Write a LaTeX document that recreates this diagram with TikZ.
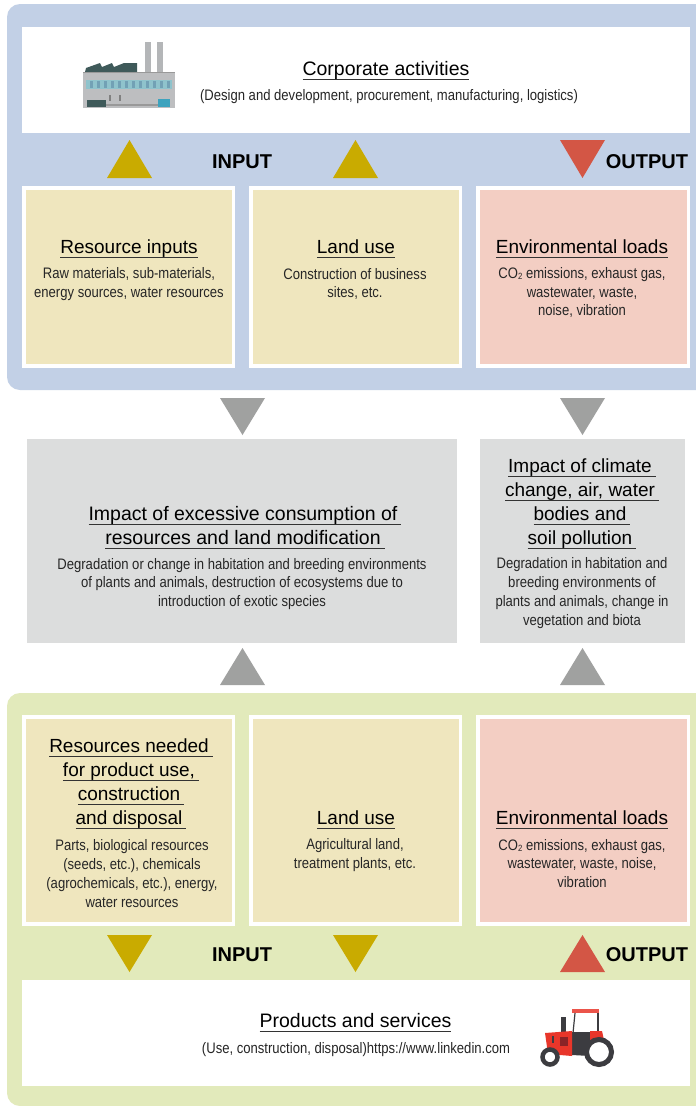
\documentclass[tikz,border=0pt]{standalone}
\usepackage{fontspec}
\setmainfont{Liberation Sans}
\newfontfamily\bodyf[FakeStretch=0.86]{Liberation Sans}
\definecolor{panelblue}{HTML}{C2D0E6}
\definecolor{panelgreen}{HTML}{E2EABB}
\definecolor{cream}{HTML}{EFE6BE}
\definecolor{pinkbox}{HTML}{F3CEC3}
\definecolor{greybox}{HTML}{DCDDDD}
\definecolor{gold}{HTML}{C9AB00}
\definecolor{redtri}{HTML}{D35645}
\definecolor{greytri}{HTML}{A0A1A0}
\definecolor{darkteal}{HTML}{3F5A5A}
\definecolor{stackgrey}{HTML}{B4B6B8}
\definecolor{wallgrey}{HTML}{BDBEC0}
\definecolor{wintop}{HTML}{8FC3CC}
\definecolor{doorblue}{HTML}{3DA3BE}
\definecolor{tracred}{HTML}{E8362A}
\definecolor{tracdark}{HTML}{3C3C40}
\definecolor{ulcolor}{HTML}{333333}
\newcommand{\hd}[1]{\setbox0\hbox{#1}\rlap{\textcolor{ulcolor}{\rule[-4.6pt]{\wd0}{0.9pt}}}\box0}
\newcommand{\hdt}[1]{\setbox0\hbox{#1\hspace{4pt}}\rlap{\textcolor{ulcolor}{\rule[-4.6pt]{\wd0}{0.9pt}}}\box0}
\newcommand{\cotwo}{CO\raisebox{-1pt}{\fontsize{9}{9}\selectfont 2}}
\tikzset{
  x=1pt,y=-1pt,
  panel/.style={rounded corners=13pt},
  head/.style={font=\fontsize{19}{24}\selectfont,align=center,text=black,inner sep=0pt},
  headwide/.style={head,font=\fontsize{19.5}{24}\selectfont},
  body/.style={font=\bodyf\fontsize{15.2}{18.9}\selectfont,align=center,text=black!85,inner sep=0pt},
  flowlabel/.style={font=\bfseries\fontsize{20}{22}\selectfont,text=black,inner sep=0pt},
}
\newcommand{\tbox}[6]{% name x1 y1 x2 y2 colour
  \fill[white] (#2,#3) rectangle (#4,#5);
  \fill[#6] (#2+3.5,#3+4) rectangle (#4-3.5,#5-4);
  \coordinate (#1) at ({(#2+#4)/2},{(#3+#5)/2});
}
\newcommand{\triup}[4]{\fill[#4] (#1-22.5,#3) -- (#1,#2) -- (#1+22.5,#3) -- cycle;}
\newcommand{\tridown}[4]{\fill[#4] (#1-22.5,#2) -- (#1+22.5,#2) -- (#1,#3) -- cycle;}
\begin{document}
\begin{tikzpicture}
\useasboundingbox (0,0) rectangle (696,1106);
\fill[white] (0,0) rectangle (696,1106);
% panels
\fill[panelblue,panel] (7,4) rectangle (710,390);
\fill[panelgreen,panel] (7,693) rectangle (710,1106);
% top
\fill[white] (22,27) rectangle (690,133);
\node[headwide] (corp) at (386,70.5) {\hd{Corporate activities}};
\node[body] (corpb) at (389,97) {(Design and development, procurement, manufacturing, logistics)};
% factory icon
\begin{scope}
\fill[stackgrey] (145,42) rectangle (151,73);
\fill[stackgrey] (157,42) rectangle (163,73);
\fill[darkteal] (85,72) -- (86,68) -- (100,63) -- (102,67) -- (112,63) -- (114,67) -- (124,63) -- (137,63) -- (137,72) -- cycle;
\fill[wallgrey] (83,72) rectangle (175,108);
\fill[black!40] (83,72) rectangle (175,73);
\fill[wintop] (86,80) rectangle (172,89);
\foreach \xx in {90,97,...,167} \fill[cyan!55!black!70] (\xx,81) rectangle (\xx+3,88);
\fill[darkteal] (87,100) rectangle (106,107);
\fill[doorblue] (158,99) rectangle (170,107);
\fill[black!50] (109,95) rectangle (111,101);
\fill[black!50] (119,95) rectangle (121,101);
\fill[black!40] (106,104) rectangle (158,106);
\end{scope}
\tridown{582.5}{140}{178}{redtri}
\triup{129.5}{140}{178}{gold}
\triup{355.5}{140}{178}{gold}
\node[flowlabel] (in1) at (242,161.5) {INPUT};
\node[flowlabel] (out1) at (647,161.5) {OUTPUT};
% upper boxes
\tbox{a}{22}{186}{235}{368}{cream}
\tbox{b}{249}{186}{462}{368}{cream}
\tbox{c}{476}{186}{690}{368}{pinkbox}
\node[head] (ah) at (129,249) {\hd{Resource inputs}};
\node[body] (ab) at (129,284) {Raw materials, sub-materials,\\energy sources, water resources};
\node[head] (bh) at (356,249) {\hd{Land use}};
\node[body] (bb) at (355,284) {Construction of business\\sites, etc.};
\node[head] (ch) at (582,249) {\hd{Environmental loads}};
\node[body] (cb) at (582,292.5) {\cotwo{} emissions, exhaust gas,\\wastewater, waste,\\noise, vibration};
% middle
\tridown{242.5}{398}{435}{greytri}
\tridown{582.5}{398}{435}{greytri}
\fill[greybox] (27,439) rectangle (457,643);
\fill[greybox] (480,439) rectangle (685,643);
\node[headwide] (dh) at (245,528) {\hdt{Impact of excessive consumption of}\\[0pt]\hdt{resources and land modification}};
\node[body] (db) at (242,584) {Degradation or change in habitation and breeding environments\\of plants and animals, destruction of ecosystems due to\\introduction of exotic species};
\node[head] (eh) at (582,504) {\hdt{Impact of climate}\\\hdt{change, air, water}\\\hdt{bodies and}\\\hdt{soil pollution}};
\node[body] (eb) at (582,593) {Degradation in habitation and\\breeding environments of\\plants and animals, change in\\vegetation and biota};
\triup{242.5}{648}{685}{greytri}
\triup{582.5}{648}{685}{greytri}
% lower boxes
\tbox{f}{22}{715}{235}{926}{cream}
\tbox{g}{249}{715}{462}{926}{cream}
\tbox{h}{476}{715}{690}{926}{pinkbox}
\node[head] (fh) at (131,784) {\hdt{Resources needed}\\\hdt{for product use,}\\\hdt{construction}\\\hdt{and disposal}};
\node[body] (fb) at (132,873.5) {Parts, biological resources\\(seeds, etc.), chemicals\\(agrochemicals, etc.), energy,\\water resources};
\node[head] (gh) at (356,820) {\hd{Land use}};
\node[body] (gb) at (355,855) {Agricultural land,\\treatment plants, etc.};
\node[head] (hh) at (582,820) {\hd{Environmental loads}};
\node[body] (hb) at (582,863.5) {\cotwo{} emissions, exhaust gas,\\wastewater, waste, noise,\\vibration};
\tridown{129.5}{935}{972}{gold}
\tridown{355.5}{935}{972}{gold}
\triup{582.5}{935}{972}{redtri}
\node[flowlabel] (in2) at (242,954.5) {INPUT};
\node[flowlabel] (out2) at (647,954.5) {OUTPUT};
% bottom
\fill[white] (22,980) rectangle (690,1086);
\node[headwide] (prod) at (355.5,1023) {\hd{Products and services}};
\node[body] (prodb) at (356,1049.5) {(Use, construction, disposal)https://www.linkedin.com};
% tractor icon
\begin{scope}
\fill[tracred!85!white] (572,1009) rectangle (599,1013);
\draw[tracdark,line width=1.2pt] (575,1013) -- (573,1033);
\draw[tracdark,line width=1.2pt] (598,1013) -- (598,1033);
\fill[tracdark] (571,1032) -- (572,1055) -- (590,1056) -- (591,1032) -- cycle;
\fill[tracdark] (561,1017) rectangle (566,1032);
\fill[tracred] (545,1033) -- (572,1031) -- (572,1056) -- (548,1054) -- cycle;
\fill[tracred] (590,1031) -- (602,1031) -- (604,1040) -- (590,1050) -- cycle;
\fill[tracdark] (552,1036) rectangle (554,1043);
\fill[tracdark!60!red] (560,1037) rectangle (568,1046);
\draw[tracdark,line width=5pt,fill=white] (599,1052) circle (12.5);
\draw[tracdark,line width=4.5pt,fill=white] (550,1057) circle (7.5);
\end{scope}
\end{tikzpicture}
\end{document}
